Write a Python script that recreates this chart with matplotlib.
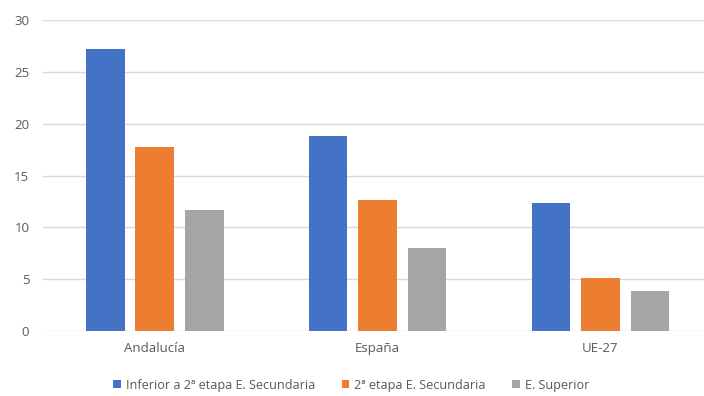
import matplotlib
matplotlib.use("Agg")
import matplotlib.pyplot as plt
import numpy as np

categories = ["Andalucía", "España", "UE-27"]
series_names = ["Inferior a 2ª etapa E. Secundaria", "2ª etapa E. Secundaria", "E. Superior"]
inferior = [27.2, 18.8, 12.4]
segunda = [17.8, 12.6, 5.1]
superior = [11.7, 8.0, 3.9]
yticks = [0, 5, 10, 15, 20, 25, 30]

colors = ["#4472C4", "#ED7D31", "#A5A5A5"]
plt.rcParams['font.family'] = ['Open Sans', 'DejaVu Sans']

fig = plt.figure(figsize=(7.04, 3.96), dpi=100)
ax = fig.add_axes([0.0614, 0.164, 0.950, 0.785])

x = np.arange(len(categories))
w = 0.1735
off = 0.222
handles = []
for i, (vals, name, c) in enumerate(zip([inferior, segunda, superior], series_names, colors)):
    b = ax.bar(x + (i - 1) * off, vals, w, color=c, label=name, zorder=3)
    handles.append(b)

ax.set_xlim(-0.5, 2.5)
ax.set_ylim(0, 30)
ax.set_yticks(yticks)
ax.set_xticks(x)
ax.set_xticklabels(categories)
ax.yaxis.grid(True, color="#D9D9D9", linewidth=1, zorder=0)
for s in ["top", "right", "left", "bottom"]:
    ax.spines[s].set_visible(False)
ax.tick_params(axis="both", length=0, colors="#595959", labelsize=9.5)
ax.tick_params(axis="x", pad=8)
ax.tick_params(axis="y", pad=10)

leg = fig.legend(handles=handles, labels=series_names, loc="center", bbox_to_anchor=(0.499, 0.027),
                 ncol=3, frameon=False, fontsize=9.1, handlelength=0.6, handleheight=0.6,
                 handletextpad=0.4, columnspacing=2.1, labelcolor="#595959")
fig.savefig("out.png", dpi=100)
